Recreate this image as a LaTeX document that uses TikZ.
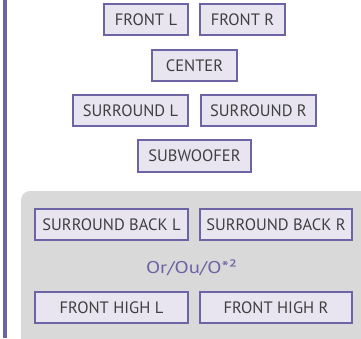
\documentclass[tikz,border=0pt]{standalone}
\usepackage{fontspec}
\setmainfont{PT Sans}
\definecolor{boxborder}{HTML}{6C64A4}
\definecolor{boxfill}{HTML}{E8E5F0}
\definecolor{panel}{HTML}{D9D9D9}
\definecolor{boxtext}{HTML}{404040}
\tikzset{
  spk/.style={draw=boxborder, line width=2pt, fill=boxfill, text=boxtext,
    inner sep=0pt, minimum height=31pt, font=\fontsize{16.5}{18}\selectfont},
}
\begin{document}
\begin{tikzpicture}[x=1pt,y=-1pt]
\useasboundingbox (0,0) rectangle (361,338);
\clip (0,0) rectangle (361,338);
\fill[white] (0,0) rectangle (361,338);
% left bar
\fill[boxborder] (3,0) rectangle (7,338);
% grey panel
\fill[panel, rounded corners=9pt] (21,191) rectangle (380,360);
% speaker boxes
\node[spk, minimum width=84pt] (fl) at (146,19.5) {FRONT L};
\node[spk, minimum width=85pt] (fr) at (242.5,19.5) {FRONT R};
\node[spk, minimum width=85pt] (c) at (194.5,65.5) {CENTER};
\node[spk, minimum width=115pt] (sl) at (130.5,110.5) {SURROUND L};
\node[spk, minimum width=115pt] (sr) at (258.5,110.5) {SURROUND R};
\node[spk, minimum width=113pt, minimum height=32pt] (sw) at (194.5,156) {SUBWOOFER};
\node[spk, minimum width=153pt] (sbl) at (111.5,224.5) {SURROUND BACK L};
\node[spk, minimum width=152pt] (sbr) at (276,224.5) {SURROUND BACK R};
\node[text=boxborder, inner sep=0pt, font=\fontsize{17}{19}\selectfont] (or) at (191.5,267.5) {\scalebox{1.22}[1]{Or/Ou/O*²}};
\node[spk, minimum width=153pt] (fhl) at (111.5,307.5) {FRONT HIGH L};
\node[spk, minimum width=152pt] (fhr) at (276,307.5) {FRONT HIGH R};
\end{tikzpicture}
\end{document}
